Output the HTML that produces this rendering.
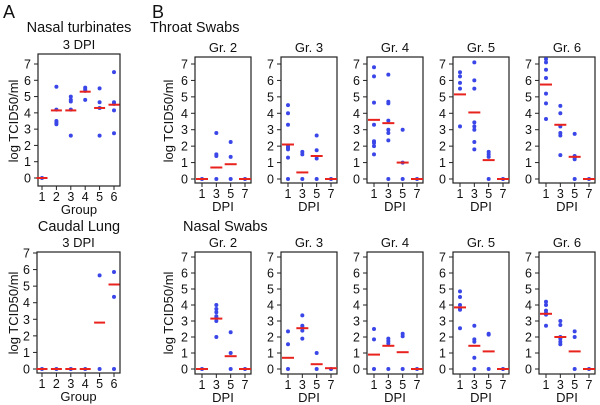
<!DOCTYPE html>
<html><head><meta charset="utf-8"><style>
body{margin:0;background:#fff;}
svg{display:block;font-family:"Liberation Sans",Arial,sans-serif;}
</style></head><body>
<svg id="fig" width="600" height="405" viewBox="0 0 600 405"></svg>
<script>
// ---- data ----
const groupCats = ["1","2","3","4","5","6"];
const dpiCats = ["1","3","5","7"];
const yTicks = [0,1,2,3,4,5,6,7];
const turbPts = [[0],[5.6,4.2,3.5,3.4,3.3],[5.0,4.8,4.7,4.2,2.6],[5.55,5.45,5.35,4.8],[5.5,4.65,4.3,2.6],[6.5,4.65,4.55,4.15,2.75]];
const turbMed = [0,4.15,4.15,5.3,4.3,4.5];
const lungPts = [[0],[0],[0],[0],[5.65,0],[5.85,4.35,0]];
const lungMed = [0,0,0,0,2.8,5.1];
const grNames = ["Gr. 2","Gr. 3","Gr. 4","Gr. 5","Gr. 6"];
const throatPts = [
 [[0],[2.8,1.5,1.4,0],[2.25,1.35,0],[0]],
 [[4.5,4.0,3.3,2.0,1.9,1.8,1.3,0],[1.65,1.5,0],[2.65,1.75,1.25,0],[0]],
 [[6.8,6.25,4.65,3.3,2.3,2.2,2.0,1.5],[6.35,4.7,4.6,3.55,3.0,2.8,2.35,0],[3.0,1.0,0],[0]],
 [[6.5,6.25,5.85,5.5,3.2],[7.1,6.0,5.5,3.45,3.2,3.0,2.25,1.8],[1.65,1.5,1.35,0],[0]],
 [[7.3,7.1,6.65,6.15,5.2,4.6,3.65],[4.45,4.0,3.2,2.8,2.65,1.45],[2.75,1.4,1.3,1.2,0],[0]]];
const throatMed = [[0,0.7,0.9,0],[2.1,0.4,1.4,0],[3.6,3.4,1.0,0],[5.15,4.05,1.15,0],[5.75,3.3,1.35,0]];
const nasalPts = [
 [[0],[4.0,3.75,3.55,3.3,3.2,3.0,2.0],[2.3,1.0,0],[0]],
 [[2.35,1.55,0],[3.35,2.7,2.6,2.4,1.9],[1.0,0],[0]],
 [[2.5,1.85,0],[1.9,1.75,1.6,0],[2.2,2.05,0],[0]],
 [[4.85,4.5,4.0,3.8,3.7,2.55],[2.7,1.85,1.7,0.7,0],[2.2,2.15,0],[0]],
 [[4.2,4.0,3.65,3.5,3.4,2.7],[3.0,2.75,2.0,1.9,1.7,1.55],[2.35,2.0,0],[0]]];
const nasalMed = [[0,3.15,0.8,0],[0.7,2.55,0.3,0.05],[0.9,1.45,1.05,0],[3.85,1.45,1.1,0],[3.45,2.0,1.1,0]];

const NS="http://www.w3.org/2000/svg";
const svg=document.getElementById('fig');
function mk(tag,attrs,parent){const e=document.createElementNS(NS,tag);for(const k in attrs)e.setAttribute(k,attrs[k]);(parent||svg).appendChild(e);return e;}
function txt(x,y,s,size,anchor,parent,name){const t=mk('text',{x:x,y:y,'font-size':size,'text-anchor':anchor||'middle',fill:'#111'},parent);t.textContent=s;


return t;}

function panel(name,L,R,T,B,y0,y7,cats,c1,cN,pts,med,title,xlab,medW){
  const g=mk('g',{});
  
  
  const yS=v=>y0+(y7-y0)*v/7;
  const xS=i=>c1+(cN-c1)*i/(cats.length-1);
  const box=mk('rect',{x:L,y:T,width:R-L,height:B-T,fill:'none',stroke:'#222','stroke-width':1.2},g);
  
  
  yTicks.forEach(v=>{const y=yS(v);mk('line',{x1:L-4,x2:L,y1:y,y2:y,stroke:'#222'},g);
    txt(L-7,y+4.5,String(v),12.5,'end',g,'y-tick-label');});
  cats.forEach((c,i)=>{const x=xS(i);mk('line',{x1:x,x2:x,y1:B,y2:B+4,stroke:'#222'},g);
    txt(x,B+15,c,12.5,'middle',g,'x-tick-label');});
  pts.forEach((arr,i)=>{arr.forEach(v=>{const d=mk('circle',{cx:xS(i),cy:yS(v),r:2,fill:'#3a46e8'},g);
    
    });});
  med.forEach((v,i)=>{const l=mk('line',{x1:xS(i)-medW/2,x2:xS(i)+medW/2,y1:yS(v),y2:yS(v),stroke:'#e8231e','stroke-width':2},g);
    
    });
  txt((L+R)/2,T-5,title,13,'middle',g,'panel-title');
  if(xlab) txt((L+R)/2,B+28,xlab,13,'middle',g,'x-axis-title');
}
function ylab(x,y,s){const t=txt(0,0,s,13,'middle',svg,'y-axis-title');t.setAttribute('transform','translate('+x+','+y+') rotate(-90)');}

txt(3,18,'A',18,'start',svg,'panel-label-a');
txt(152,18,'B',18,'start',svg,'panel-label-b');
txt(79,32,'Nasal turbinates',14.5,'middle',svg,'nasal-turbinates-title');
txt(79,231,'Caudal Lung',14.5,'middle',svg,'caudal-lung-title');
txt(150,32,'Throat Swabs',14.5,'start',svg,'throat-swabs-title');
txt(183,231,'Nasal Swabs',14.5,'start',svg,'nasal-swabs-title');

panel('nasal-turbinates-chart',38,120,54,186,178,64,groupCats,42,114,turbPts,turbMed,'3 DPI','Group',11);
panel('caudal-lung-chart',37,120,252,373,369,253,groupCats,42,114,lungPts,lungMed,'3 DPI','Group',11);
ylab(18,121,'log TCID50/ml');
ylab(18,313,'log TCID50/ml');
ylab(173,121,'log TCID50/ml');
ylab(173,313,'log TCID50/ml');
const lefts=[195,281,367,453,539];
lefts.forEach((L,k)=>{
  panel('throat-'+grNames[k].replace('. ','').toLowerCase(),L,L+56,57,183,179,64,dpiCats,L+7,L+50,throatPts[k],throatMed[k],grNames[k],'DPI',12);
  panel('nasal-'+grNames[k].replace('. ','').toLowerCase(),L,L+56,252,374,369,257,dpiCats,L+7,L+50,nasalPts[k],nasalMed[k],grNames[k],'DPI',12);
});
</script>
</body></html>
